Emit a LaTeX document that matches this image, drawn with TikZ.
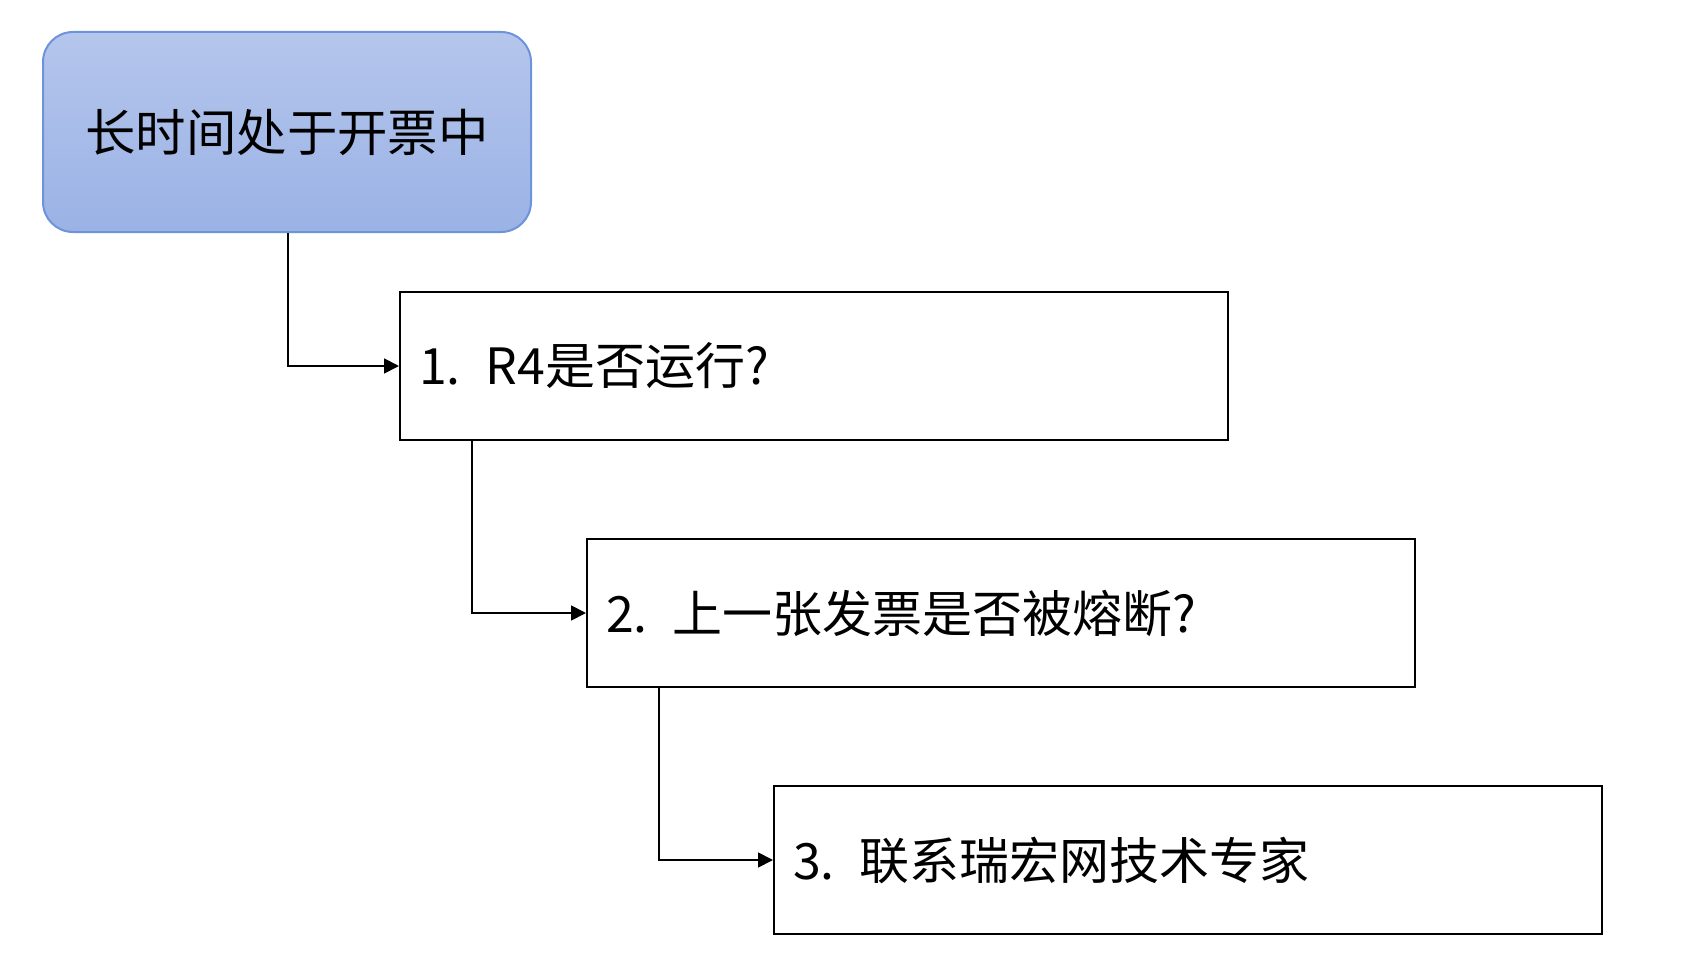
\documentclass[tikz,border=0pt]{standalone}
\usepackage{fontspec}
\setmainfont{Noto Sans CJK SC}
\usetikzlibrary{arrows.meta}
\definecolor{topfillA}{HTML}{B5C6EC}
\definecolor{topfillB}{HTML}{9AB2E5}
\definecolor{topdraw}{HTML}{6D93DB}
\tikzset{
  startbox/.style={draw=topdraw, line width=1pt, rounded corners=15pt,
    top color=topfillA, bottom color=topfillB,
    minimum width=244pt, minimum height=100pt, inner sep=0pt,
    font=\fontsize{25.2pt}{29pt}\selectfont},
  stepbox/.style={draw=black, line width=1pt, minimum height=74pt,
    inner xsep=9.5pt, inner ysep=0pt, text width=395pt, align=left,
    anchor=west, font=\fontsize{25pt}{29pt}\selectfont},
  link/.style={draw=black, line width=0.9pt, -{Triangle[length=7.5pt,width=7.5pt]}}
}
\begin{document}
\begin{tikzpicture}[x=0.5pt,y=-0.5pt]
\useasboundingbox (0,0) rectangle (1698,974);
\node[startbox] (s) at (287,132) {\raisebox{-1.6pt}{长时间处于开票中}};
\node[stepbox] (a) at (399,366) {1. R4是否运行?};
\node[stepbox] (b) at (586,613) {2. 上一张发票是否被熔断?};
\node[stepbox] (c) at (773,860) {3. 联系瑞宏网技术专家};
\coordinate (sa) at ([xshift=0.5pt]s.south);
\coordinate (ab) at ([xshift=36.5pt]a.south west);
\coordinate (bc) at ([xshift=36.5pt]b.south west);
\draw[link] (sa) |- (a.west);
\draw[link] (ab) |- (b.west);
\draw[link] (bc) |- (c.west);
\end{tikzpicture}
\end{document}
